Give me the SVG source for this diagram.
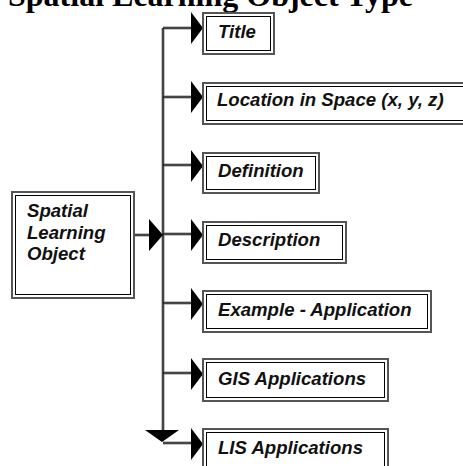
<svg xmlns="http://www.w3.org/2000/svg" width="463" height="466" viewBox="0 0 463 466">
<style>
.bo{fill:#fff;stroke:#555;stroke-width:2}
.bi{fill:none;stroke:#000;stroke-width:1}
.t{font-family:"Liberation Sans",Arial,sans-serif;font-style:italic;font-weight:bold;font-size:18.6px;fill:#111}
.lg{stroke:#888;stroke-width:3;fill:none}
.lb{stroke:#000;stroke-width:1;fill:none}
.ah{fill:#000}
.title{font-family:"Liberation Serif","Times New Roman",serif;font-weight:bold;font-size:32px;fill:#000}
</style>
<text class="title" x="8" y="6">Spatial Learning Object Type</text>
<g id="connectors">
<path class="lg" d="M163,28 V430 M163,28 H191 M163,97 H191 M163,165 H191 M163,234 H191 M163,303 H191 M163,373 H191 M163,443 H191 M134,235 H150"/>
<path class="lb" d="M163,28 V430 M163,28 H191 M163,97 H191 M163,165 H191 M163,234 H191 M163,303 H191 M163,373 H191 M163,443 H191 M134,235 H150"/>
<polygon class="ah" points="191,12 203,28 191,44"/>
<polygon class="ah" points="191,81 203,97 191,113"/>
<polygon class="ah" points="191,150 203,166 191,182"/>
<polygon class="ah" points="191,219 203,235 191,251"/>
<polygon class="ah" points="191,288 203,304 191,320"/>
<polygon class="ah" points="191,358 203,374 191,390"/>
<polygon class="ah" points="191,428 203,444 191,460"/>
<polygon class="ah" points="149,219 163,235 149,251"/>
<polygon class="ah" points="145,430 179,430 162,442"/>
</g>
<g id="source">
<rect class="bo" x="12" y="192" width="122" height="106"/>
<rect class="bi" x="15.5" y="195.5" width="115" height="99"/>
<text class="t" x="27" y="217">Spatial</text>
<text class="t" x="27" y="239">Learning</text>
<text class="t" x="27" y="260">Object</text>
</g>
<g id="n-title">
<rect class="bo" x="203" y="13" width="71" height="41"/>
<rect class="bi" x="206.5" y="16.5" width="64" height="34"/>
<text class="t" x="218" y="38">Title</text>
</g>
<g id="n-location">
<rect class="bo" x="203" y="83" width="262" height="41"/>
<rect class="bi" x="206.5" y="86.5" width="262" height="34"/>
<text class="t" x="217" y="106">Location in Space (x, y, z)</text>
</g>
<g id="n-definition">
<rect class="bo" x="203" y="153" width="116" height="40"/>
<rect class="bi" x="206.5" y="156.5" width="109" height="33"/>
<text class="t" x="218" y="177">Definition</text>
</g>
<g id="n-description">
<rect class="bo" x="203" y="222" width="143" height="41"/>
<rect class="bi" x="206.5" y="225.5" width="136" height="34"/>
<text class="t" x="218" y="246">Description</text>
</g>
<g id="n-example">
<rect class="bo" x="203" y="291" width="228" height="41"/>
<rect class="bi" x="206.5" y="294.5" width="221" height="34"/>
<text class="t" x="218" y="316">Example - Application</text>
</g>
<g id="n-gis">
<rect class="bo" x="203" y="359" width="185" height="42"/>
<rect class="bi" x="206.5" y="362.5" width="178" height="35"/>
<text class="t" x="218" y="385">GIS Applications</text>
</g>
<g id="n-lis">
<rect class="bo" x="203" y="429" width="185" height="42"/>
<rect class="bi" x="206.5" y="432.5" width="178" height="35"/>
<text class="t" x="218" y="454">LIS Applications</text>
</g>
</svg>
